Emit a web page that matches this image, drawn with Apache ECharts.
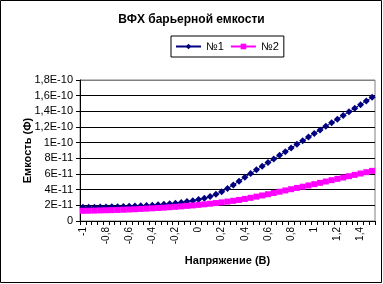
<!DOCTYPE html>
<html><head><meta charset="utf-8">
<script src="https://cdn.jsdelivr.net/npm/echarts@6/dist/echarts.min.js"></script>
<style>html,body{margin:0;padding:0;background:#fff}#c{width:383px;height:284px}</style>
</head><body><div id="c"></div>
<script>
var categories = ['-1','-0,95','-0,9','-0,85','-0,8','-0,75','-0,7','-0,65','-0,6','-0,55','-0,5','-0,45','-0,4','-0,35','-0,3','-0,25','-0,2','-0,15','-0,1','-0,05','0','0,05','0,1','0,15','0,2','0,25','0,3','0,35','0,4','0,45','0,5','0,55','0,6','0,65','0,7','0,75','0,8','0,85','0,9','0,95','1','1,05','1,1','1,15','1,2','1,25','1,3','1,35','1,4','1,45','1,5'];
var series1 = [1.75e-11,1.76e-11,1.77e-11,1.78e-11,1.79e-11,1.81e-11,1.83e-11,1.85e-11,1.88e-11,1.91e-11,1.94e-11,1.98e-11,2.02e-11,2.07e-11,2.13e-11,2.20e-11,2.28e-11,2.37e-11,2.48e-11,2.60e-11,2.75e-11,2.92e-11,3.12e-11,3.40e-11,3.74e-11,4.15e-11,4.60e-11,5.08e-11,5.58e-11,6.05e-11,6.53e-11,7.00e-11,7.46e-11,7.92e-11,8.38e-11,8.85e-11,9.32e-11,9.79e-11,1.025e-10,1.072e-10,1.118e-10,1.163e-10,1.208e-10,1.254e-10,1.300e-10,1.348e-10,1.394e-10,1.440e-10,1.485e-10,1.532e-10,1.579e-10];
var series2 = [1.30e-11,1.31e-11,1.33e-11,1.35e-11,1.37e-11,1.39e-11,1.41e-11,1.44e-11,1.47e-11,1.50e-11,1.54e-11,1.58e-11,1.62e-11,1.66e-11,1.71e-11,1.76e-11,1.81e-11,1.87e-11,1.93e-11,1.99e-11,2.06e-11,2.13e-11,2.21e-11,2.29e-11,2.38e-11,2.48e-11,2.58e-11,2.69e-11,2.82e-11,2.96e-11,3.11e-11,3.26e-11,3.42e-11,3.58e-11,3.74e-11,3.90e-11,4.06e-11,4.22e-11,4.38e-11,4.54e-11,4.70e-11,4.87e-11,5.04e-11,5.21e-11,5.38e-11,5.55e-11,5.72e-11,5.89e-11,6.06e-11,6.23e-11,6.40e-11];
var seriesNames = ['№1','№2'];
var title = 'ВФХ барьерной емкости';
var xName = 'Напряжение (В)';
var yName = 'Емкость (Ф)';

var FF = '"Liberation Sans", Arial, sans-serif';
function fmtY(v){
  if (Math.abs(v) < 1e-20) return '0';
  var e = Math.floor(Math.log10(v) + 1e-9);
  var m = Math.round(v / Math.pow(10, e) * 10) / 10;
  if (m >= 10) { m = m / 10; e += 1; }
  return String(m).replace('.', ',') + 'E' + e;
}
var chart = echarts.init(document.getElementById('c'), null, {renderer:'canvas'});
var splitColors = ['#000','#000','#000','#000','#000','#000','#000','#000','#000','#808080'];
chart.setOption({
  animation:false,
  backgroundColor:'#fff',
  textStyle:{fontFamily:FF},
  title:{text:title, left:'center', top:9, textStyle:{fontSize:12, fontWeight:'bold', color:'#000', fontFamily:FF}},
  legend:{
    data:seriesNames, left:171, top:36, orient:'horizontal',
    borderColor:'#000', borderWidth:1, borderRadius:0,
    padding:[5,5,5,4], itemGap:6, itemWidth:25, itemHeight:7,
    textStyle:{fontSize:11, color:'#000', fontFamily:FF}
  },
  grid:{left:80, right:8, top:80, bottom:63, show:true, borderColor:'#808080', borderWidth:1, containLabel:false},
  xAxis:{
    type:'category', data:categories, boundaryGap:true,
    name:xName, nameLocation:'middle', nameGap:34, nameMoveOverlap:false,
    nameTextStyle:{fontSize:11, fontWeight:'bold', color:'#000', fontFamily:FF},
    axisLine:{lineStyle:{color:'#000', width:1}},
    axisTick:{show:true, interval:0, length:4, inside:false, lineStyle:{color:'#000'}},
    axisLabel:{interval:3, rotate:90, fontSize:10, color:'#000', margin:6, fontFamily:FF},
    splitLine:{show:false}
  },
  yAxis:{
    type:'value', min:0, max:1.8e-10, interval:2e-11,
    name:yName, nameLocation:'middle', nameGap:47, nameRotate:90, nameMoveOverlap:false,
    nameTextStyle:{fontSize:11, fontWeight:'bold', color:'#000', fontFamily:FF},
    axisLine:{show:true, lineStyle:{color:'#000', width:1}},
    axisTick:{show:true, length:4, lineStyle:{color:'#000'}},
    axisLabel:{formatter:fmtY, fontSize:11, color:'#000', margin:7, fontFamily:FF},
    splitLine:{show:true, lineStyle:{color:splitColors, width:1}}
  },
  graphic:[{type:'rect', shape:{x:0.5, y:0.5, width:381, height:282}, style:{fill:'none', stroke:'#000', lineWidth:1}, silent:true, z:100}],
  series:[
    {name:seriesNames[0], type:'line', data:series1, symbol:'diamond', symbolSize:7, showAllSymbol:true,
     lineStyle:{color:'#000080', width:1}, itemStyle:{color:'#000080'}},
    {name:seriesNames[1], type:'line', data:series2, symbol:'rect', symbolSize:6, showAllSymbol:true,
     lineStyle:{color:'#FF00FF', width:1}, itemStyle:{color:'#FF00FF'}}
  ]
});
</script></body></html>
